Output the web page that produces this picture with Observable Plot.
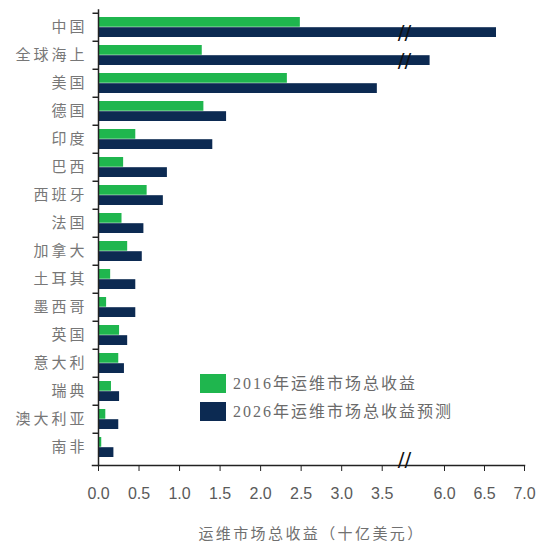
<!DOCTYPE html>
<html><head><meta charset="utf-8">
<script src="https://cdn.jsdelivr.net/npm/d3@7"></script>
<script src="https://cdn.jsdelivr.net/npm/@observablehq/plot@0.6"></script>
<style>
body{margin:0;background:#fff;}
#wrap{position:relative;width:552px;height:551px;overflow:hidden;}
#wrap svg{position:absolute;left:0;top:0;}
.leg{position:absolute;left:200px;display:flex;align-items:center;height:19px;}
.sw{width:26px;height:19px;margin-right:7px;}
.lt{font-family:"Liberation Serif","Noto Sans CJK SC";font-size:16px;letter-spacing:2px;color:#6a6a6a;line-height:19px;white-space:nowrap;}
</style></head><body><div id="wrap"></div>
<script>
const categories = ["中国","全球海上","美国","德国","印度","巴西","西班牙","法国","加拿大","土耳其","墨西哥","英国","意大利","瑞典","澳大利亚","南非"];
const revenue2016 = [2.49,1.28,2.33,1.30,0.46,0.31,0.60,0.29,0.36,0.15,0.10,0.26,0.25,0.16,0.09,0.04];
const revenue2026 = [6.65,5.82,3.44,1.58,1.41,0.85,0.80,0.56,0.54,0.46,0.46,0.36,0.32,0.26,0.25,0.19];
const seriesLabels = ["2016年运维市场总收益","2026年运维市场总收益预测"];
const seriesColors = ["#1fb64e","#0c2a52"];
const xTicks = [0,0.5,1,1.5,2,2.5,3,3.5,6,6.5,7];
const brokenCategories = ["中国","全球海上"];
const xLabel = "运维市场总收益（十亿美元）";
const BREAK_VALUE = 4.6;

const rows = categories.map((name,i)=>({name, v2016: revenue2016[i], v2026: revenue2026[i]}));
const step = (551 - 9.5 - 86) / categories.length;
const leftTick = {draw(ctx){ ctx.moveTo(-6, 0); ctx.lineTo(0, 0); }};

const plot = Plot.plot({
  width: 552, height: 551,
  marginTop: 9.5, marginBottom: 86, marginLeft: 98, marginRight: 28,
  style: {background: "#fff", fontFamily: "'Liberation Sans','Noto Sans CJK SC'"},
  x: {type: "linear", domain: [0, 3.775, 5.5, 7], range: [98, 404, 404, 524], label: null},
  y: {type: "band", domain: categories, padding: 0, label: null},
  marks: [
    Plot.barX(rows, {y: "name", x: "v2016", fill: seriesColors[0], insetTop: 4, insetBottom: step - 14.2}),
    Plot.barX(rows, {y: "name", x: "v2026", fill: seriesColors[1], insetTop: 14.2, insetBottom: 4}),
    Plot.text(brokenCategories, {x: () => BREAK_VALUE, y: d => d, dy: 5, text: () => "//", fontSize: 20, fill: "#111", fontFamily: "DejaVu Sans"}),
    Plot.axisY({tickSize: 0, tickPadding: 11, fontSize: 15, fill: "#777", fontFamily: "Noto Sans CJK SC", label: null}),
    Plot.dot(categories, {x: () => 0, y: d => d, dy: -step / 2, symbol: leftTick, stroke: "#222", strokeWidth: 1.5, fill: "none"}),
    Plot.frame({anchor: "left", stroke: "#222", strokeWidth: 1.5}),
    Plot.frame({anchor: "bottom", stroke: "#222", strokeWidth: 1.5, insetLeft: -6}),
    Plot.axisX({ticks: xTicks, tickSize: 6, tickPadding: 16, tickFormat: d3.format(".1f"), fontSize: 16, stroke: "#222", fill: "#5a5a5a", label: null}),
    Plot.text([BREAK_VALUE], {x: d => d, frameAnchor: "bottom", text: () => "//", fontSize: 20, fill: "#111", fontFamily: "DejaVu Sans"}),
    Plot.text([xLabel], {frameAnchor: "bottom", dy: 73, text: d => d, fontSize: 15, fill: "#707070", fontFamily: "Noto Sans CJK SC"})
  ]
});
const wrap = document.getElementById("wrap");
wrap.appendChild(plot);
// letter spacing for the CJK labels (CSS, applied to leaf text nodes only)
d3.select(plot).selectAll("text, tspan").each(function() {
  if (this.querySelector && this.querySelector("tspan")) return;
  const t = this.textContent;
  if (categories.includes(t)) this.style.letterSpacing = "3px";
  if (t === xLabel) this.style.letterSpacing = "2.4px";
});
seriesLabels.forEach((lab, i) => {
  const row = document.createElement("div");
  row.className = "leg";
  row.style.top = (374 + i * 28) + "px";
  row.innerHTML = `<div class="sw" style="background:${seriesColors[i]}"></div><span class="lt">${lab}</span>`;
  wrap.appendChild(row);
});
</script></body></html>
